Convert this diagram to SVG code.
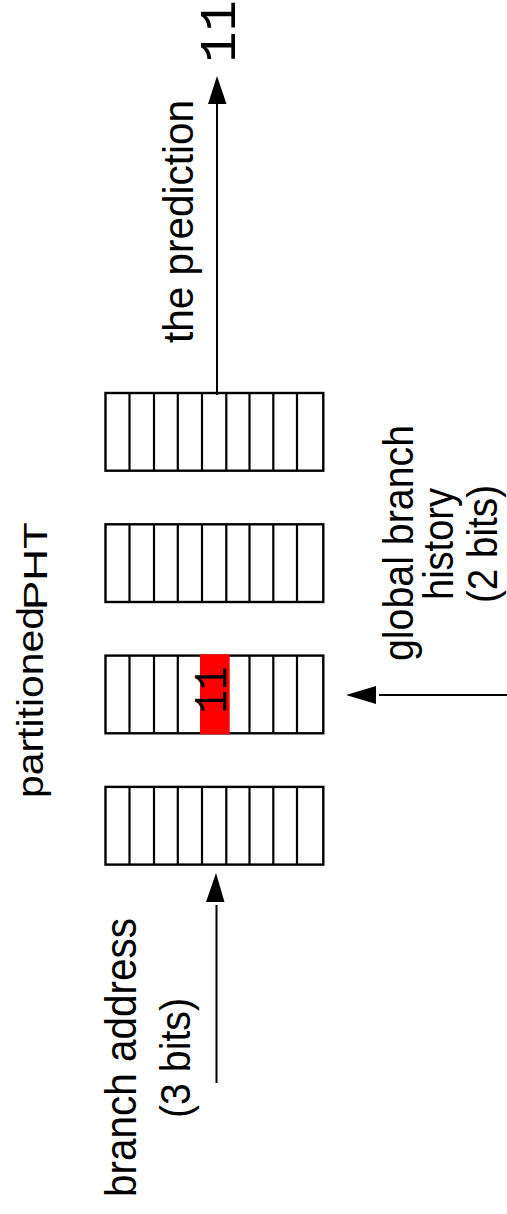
<svg xmlns="http://www.w3.org/2000/svg" width="507" height="1214" viewBox="0 0 507 1214">
<style>
.box{fill:none;stroke:#000;stroke-width:2.4}
.div{stroke:#000;stroke-width:2.2}
.lbl{font-family:"Liberation Sans",Arial,sans-serif;fill:#000;text-anchor:middle}
.num{font-family:"Liberation Mono","Courier New",monospace;fill:#000;text-anchor:middle}
.wire{stroke:#000;stroke-width:2;fill:none}
.head{fill:#000;stroke:none}
</style>
<defs>
<g id="table">
<rect class="box" x="105.5" y="0" width="217.8" height="77.7"/>
<path class="div" d="M129.5 0V77.7M154 0V77.7M177.8 0V77.7M202 0V77.7M226.3 0V77.7M249.5 0V77.7M273.3 0V77.7M297 0V77.7"/>
</g>
</defs>
<rect width="507" height="1214" fill="#fff"/>
<g id="title">
<text class="lbl" font-size="36" transform="translate(43,702.5) rotate(-90)" textLength="191" lengthAdjust="spacingAndGlyphs">partitioned</text>
<text class="lbl" font-size="34" transform="translate(47,566) rotate(-90)" textLength="88" lengthAdjust="spacingAndGlyphs">PHT</text>
</g>
<g id="table1"><use href="#table" y="393"/></g>
<g id="table2"><use href="#table" y="524.3"/></g>
<g id="table3">
<use href="#table" y="655.6"/>
<rect x="200" y="654.3" width="29.7" height="80" fill="#ff0000"/>
<text class="num" font-size="46" transform="translate(226,690) rotate(-90)" textLength="47" lengthAdjust="spacingAndGlyphs">11</text>
</g>
<g id="table4"><use href="#table" y="786.9"/></g>
<g id="label-prediction">
<text class="lbl" font-size="43" transform="translate(193,221.5) rotate(-90)" textLength="243" lengthAdjust="spacingAndGlyphs">the prediction</text>
</g>
<g id="output-value">
<text class="num" font-size="52" transform="translate(234.5,31.5) rotate(-90)">11</text>
</g>
<g id="label-history">
<text class="lbl" font-size="42" transform="translate(413,543) rotate(-90)" textLength="236" lengthAdjust="spacingAndGlyphs">global branch</text>
<text class="lbl" font-size="42" transform="translate(453,544) rotate(-90)" textLength="112" lengthAdjust="spacingAndGlyphs">history</text>
<text class="lbl" font-size="42" transform="translate(497,544) rotate(-90)" textLength="118" lengthAdjust="spacingAndGlyphs">(2 bits)</text>
</g>
<g id="label-address">
<text class="lbl" font-size="44" transform="translate(136,1057.5) rotate(-90)" textLength="279" lengthAdjust="spacingAndGlyphs">branch address</text>
<text class="lbl" font-size="42" transform="translate(190,1058) rotate(-90)" textLength="120" lengthAdjust="spacingAndGlyphs">(3 bits)</text>
</g>
<g id="connectors">
<line class="wire" x1="217" y1="395" x2="217" y2="100"/>
<polygon class="head" points="217,76 226.5,104 208,104"/>
<line class="wire" x1="216.5" y1="1083" x2="216.5" y2="905"/>
<polygon class="head" points="216,873 224.5,902 206,902"/>
<line class="wire" x1="507" y1="695" x2="379" y2="695"/>
<polygon class="head" points="346,695 376,686 376,704"/>
</g>
</svg>
